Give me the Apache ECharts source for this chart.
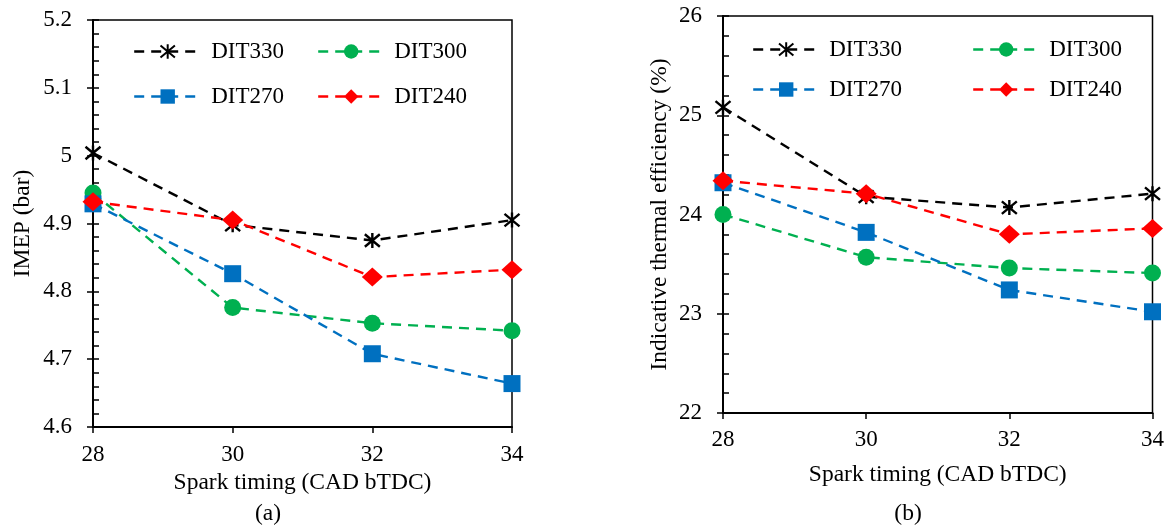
<!DOCTYPE html>
<html>
<head>
<meta charset="utf-8">
<script src="https://cdn.jsdelivr.net/npm/echarts@6/dist/echarts.min.js"></script>
<style>
html,body{margin:0;padding:0;background:#fff;}
#chart{width:1167px;height:527px;}
</style>
</head>
<body>
<div id="chart"></div>
<script>
// ---- data ----
const sparkTiming = [28, 30, 32, 34];
const seriesNames = ['DIT330', 'DIT300', 'DIT270', 'DIT240'];
const imepDIT330 = [5.004, 4.898, 4.875, 4.905];
const imepDIT300 = [4.945, 4.776, 4.753, 4.742];
const imepDIT270 = [4.929, 4.826, 4.708, 4.664];
const imepDIT240 = [4.932, 4.905, 4.821, 4.832];
const iteDIT330 = [25.08, 24.18, 24.07, 24.21];
const iteDIT300 = [24.00, 23.57, 23.46, 23.41];
const iteDIT270 = [24.32, 23.82, 23.24, 23.02];
const iteDIT240 = [24.34, 24.21, 23.80, 23.86];
const xTicks = [28, 30, 32, 34];
const imepTicks = [4.6, 4.7, 4.8, 4.9, 5, 5.1, 5.2];
const iteTicks = [22, 23, 24, 25, 26];
const xTitle = 'Spark timing (CAD bTDC)';
const yTitleA = 'IMEP (bar)';
const yTitleB = 'Indicative thermal efficiency (%)';
const panelLabels = ['(a)', '(b)'];

const FONT = "'Liberation Serif', 'Times New Roman', serif";
const colors = { DIT330: '#000000', DIT300: '#00B050', DIT270: '#0070C0', DIT240: '#FF0000' };
const ASTERISK = 'path://M0,0L10,10M10,0L0,10M5,-1L5,11';
const symbols = {
  DIT330: { symbol: ASTERISK, size: 15 },
  DIT300: { symbol: 'circle', size: 17 },
  DIT270: { symbol: 'rect', size: 17 },
  DIT240: { symbol: 'diamond', size: [21, 19] }
};

function zip(xs, ys) { return xs.map((x, i) => [x, ys[i]]); }

function mkSeries(name, values, gi) {
  const c = colors[name];
  const s = symbols[name];
  const isAst = name === 'DIT330';
  return {
    type: 'line', name: name,
    xAxisIndex: gi, yAxisIndex: gi * 2,
    data: zip(sparkTiming, values),
    symbol: s.symbol, symbolSize: s.size,
    clip: false,
    lineStyle: { color: c, width: 2.4, type: [10, 7] },
    itemStyle: isAst ? { color: 'rgba(0,0,0,0)', borderColor: c, borderWidth: 2.4 } : { color: c, borderWidth: 0 },
    emphasis: { disabled: true },
    z: 3
  };
}

function xAxisCfg(gi, margin, nameGap) {
  return {
    type: 'value', gridIndex: gi, min: xTicks[0], max: xTicks[xTicks.length - 1], interval: 2,
    name: xTitle, nameLocation: 'middle', nameGap: nameGap,
    nameTextStyle: { fontFamily: FONT, fontSize: 23.5, color: '#000' },
    axisLine: { show: true, lineStyle: { color: '#000', width: 2 } },
    axisTick: { show: true, inside: false, length: 6, lineStyle: { color: '#000', width: 1.5 } },
    axisLabel: { fontFamily: FONT, fontSize: 23, color: '#000', margin: margin },
    splitLine: { show: false }
  };
}

function yAxisPair(gi, ticks, interval, title, nameGap, margin) {
  const min = ticks[0], max = ticks[ticks.length - 1];
  return [
    {
      type: 'value', gridIndex: gi, min: min, max: max, interval: interval, position: 'left',
      name: title, nameLocation: 'middle', nameGap: nameGap,
      nameTextStyle: { fontFamily: FONT, fontSize: 23.5, color: '#000' },
      axisLine: { show: true, lineStyle: { color: '#000', width: 2 } },
      axisTick: { show: true, inside: true, length: 6, lineStyle: { color: '#000', width: 1.5 } },
      minorTick: { show: true, splitNumber: 5, length: 6, lineStyle: { color: '#000', width: 1.5 } },
      axisLabel: { fontFamily: FONT, fontSize: 23, color: '#000', margin: margin },
      splitLine: { show: false }, minorSplitLine: { show: false }
    },
    {
      type: 'value', gridIndex: gi, min: min, max: max, interval: interval, position: 'left',
      axisLine: { show: false },
      axisTick: { show: true, inside: false, length: 6, lineStyle: { color: '#000', width: 1.5 } },
      axisLabel: { show: false },
      splitLine: { show: false }
    }
  ];
}

function legendItem(name, left, centerY, itemWidth) {
  return {
    data: [name], left: left, top: centerY - 9, padding: 0,
    itemWidth: itemWidth, itemHeight: 18, selectedMode: false,
    lineStyle: { width: 2.4 },
    textStyle: { fontFamily: FONT, fontSize: 23, color: '#000', padding: [0, 0, 0, 5] }
  };
}

function panelLabel(text, x, y) {
  return { type: 'text', x: x, y: y, style: { text: text, font: "23.5px " + FONT, fill: '#000', align: 'center', verticalAlign: 'middle' } };
}

const chart = echarts.init(document.getElementById('chart'), null, { renderer: 'canvas' });
const option = {
  backgroundColor: '#fff',
  animation: false,
  grid: [
    { left: 93, top: 20, width: 419, height: 407, show: true, borderColor: '#000', borderWidth: 1.5, backgroundColor: 'transparent' },
    { left: 723, top: 16, width: 430, height: 397, show: true, borderColor: '#000', borderWidth: 1.5, backgroundColor: 'transparent' }
  ],
  xAxis: [xAxisCfg(0, 16, 41), xAxisCfg(1, 15, 50)],
  yAxis: [].concat(
    yAxisPair(0, imepTicks, 0.1, yTitleA, 58, 21),
    yAxisPair(1, iteTicks, 1, yTitleB, 51, 21)
  ),
  legend: [
    legendItem('DIT330', 133, 49, 67),
    legendItem('DIT300', 317, 49, 66),
    legendItem('DIT270', 133, 94, 67),
    legendItem('DIT240', 317, 94, 66),
    legendItem('DIT330', 752, 47, 66),
    legendItem('DIT300', 972, 47, 66),
    legendItem('DIT270', 752, 87, 66),
    legendItem('DIT240', 972, 87, 66)
  ],
  graphic: [
    panelLabel(panelLabels[0], 268, 514),
    panelLabel(panelLabels[1], 908, 514)
  ],
  series: [
    mkSeries('DIT330', imepDIT330, 0),
    mkSeries('DIT300', imepDIT300, 0),
    mkSeries('DIT270', imepDIT270, 0),
    mkSeries('DIT240', imepDIT240, 0),
    mkSeries('DIT330', iteDIT330, 1),
    mkSeries('DIT300', iteDIT300, 1),
    mkSeries('DIT270', iteDIT270, 1),
    mkSeries('DIT240', iteDIT240, 1)
  ]
};
chart.setOption(option);
</script>
</body>
</html>
